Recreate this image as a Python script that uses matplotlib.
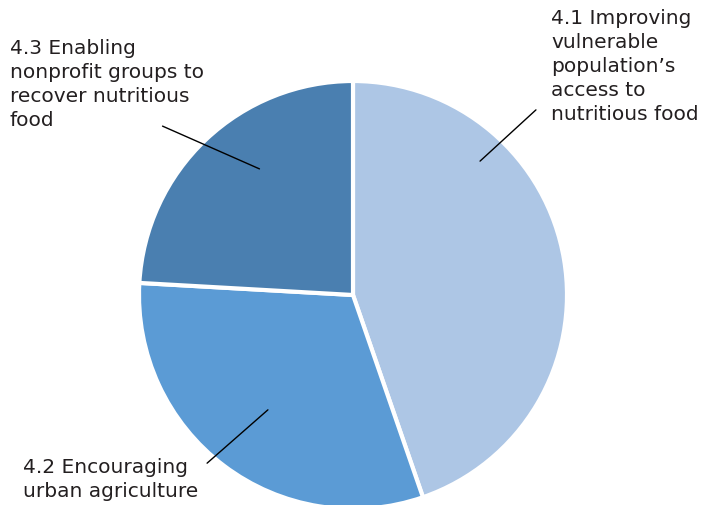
import matplotlib.pyplot as plt

labels = ['4.1 Improving\nvulnerable\npopulation\u2019s\naccess to\nnutritious food',
          '4.2 Encouraging\nurban agriculture',
          '4.3 Enabling\nnonprofit groups to\nrecover nutritious\nfood']
shares = [44.7, 31.2, 24.1]
colors = ['#adc6e5', '#5b9bd5', '#4a7fb0']

W, H = 721, 505
fig = plt.figure(figsize=(W / 100, H / 100), dpi=100)
ax = fig.add_axes([0, 0, 1, 1])

ax.pie(shares, colors=colors, startangle=90, counterclock=False,
       center=(353, H - 295), radius=214,
       wedgeprops=dict(edgecolor='white', linewidth=3))

ax.set_xlim(0, W)
ax.set_ylim(0, H)
ax.set_aspect('equal')
ax.axis('off')

# label text position (top-left, px from top) and leader line (text end, wedge end)
label_pos = [(551, 9), (23, 458), (10, 39)]
leaders = [((538, 108), (478, 163)),
           ((205, 465), (270, 408)),
           ((160, 125), (262, 170))]

for lab, (tx, ty), (p0, p1) in zip(labels, label_pos, leaders):
    ax.text(tx, H - ty, lab, ha='left', va='top', fontsize=14.5,
            color='#231f20', linespacing=1.33, family='DejaVu Sans')
    ax.annotate('', xy=(p1[0], H - p1[1]), xytext=(p0[0], H - p0[1]),
                arrowprops=dict(arrowstyle='-', color='black', lw=1))

fig.savefig('out.png', dpi=100)
